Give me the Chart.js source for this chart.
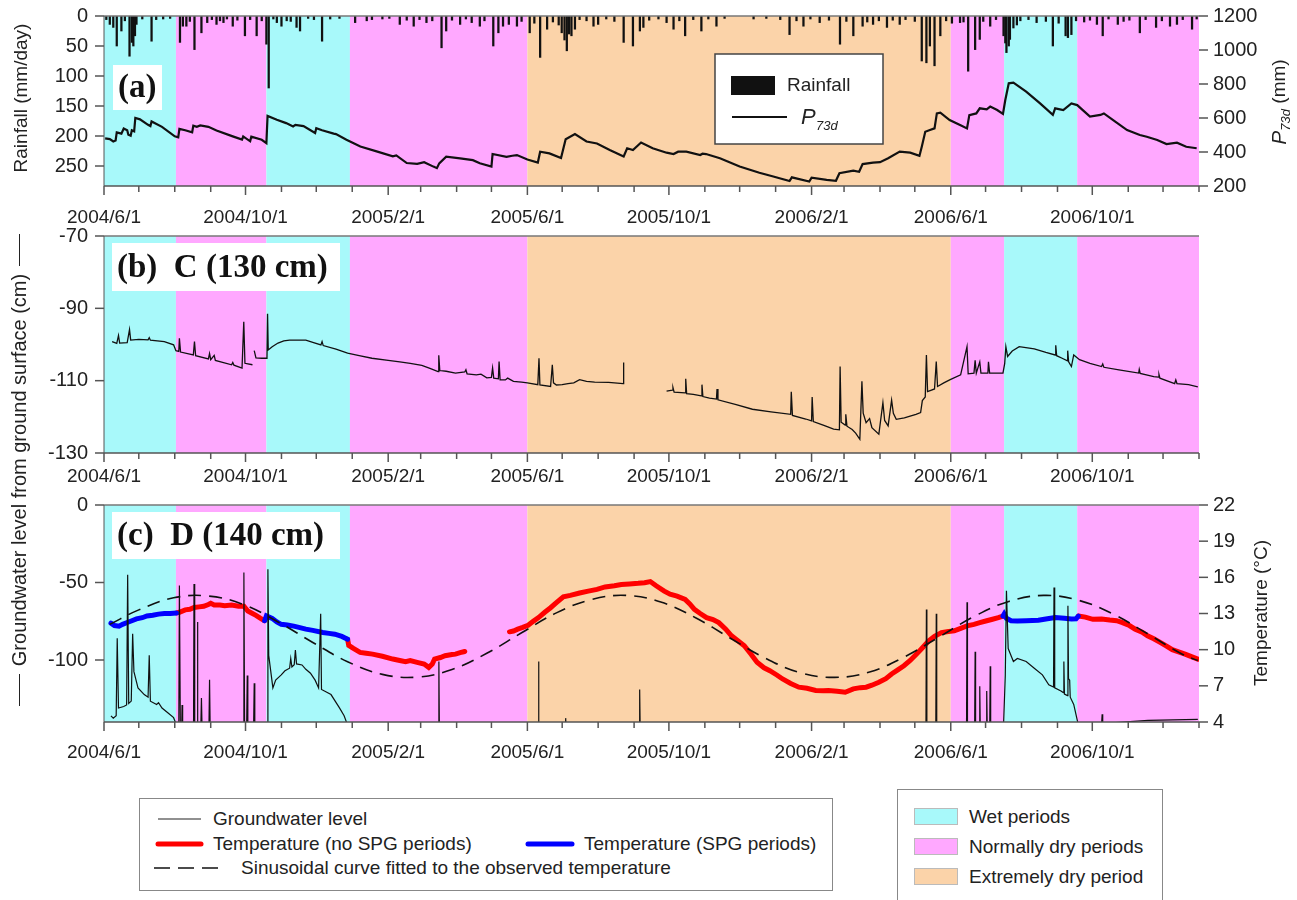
<!DOCTYPE html>
<html>
<head>
<meta charset="utf-8">
<title>Rainfall, groundwater level and temperature</title>
<script src="https://cdn.jsdelivr.net/npm/chart.js@4.4.1/dist/chart.umd.min.js"></script>
<style>
  body { margin: 0; background: #fff; }
  #page { position: relative; width: 1297px; height: 900px; overflow: hidden; font-family: "Liberation Sans", Arial, sans-serif; color: #222; }
  canvas { position: absolute; left: 0; }
  #gwTitle { position: absolute; left: -226px; top: 458px; width: 490px; height: 24px; transform: rotate(-90deg);
             display: flex; align-items: center; justify-content: center; font-size: 20px; white-space: nowrap; }
  #gwTitle .rule { display: inline-block; width: 32px; border-top: 1.5px solid #222; margin: 0 8px; }
  .box { position: absolute; box-sizing: border-box; border: 1.5px solid #888; background: #fff; font-size: 19px; }
  .box .txt { position: absolute; line-height: 22px; white-space: nowrap; }
  .box svg { position: absolute; left: 0; top: 0; }
  .swatch { position: absolute; width: 44px; height: 17px; box-sizing: border-box; border: 1px solid #bbb; }
</style>
</head>
<body>
<div id="page">
  <canvas id="chartA" width="1297" height="245" style="top:0"></canvas>
  <canvas id="chartB" width="1297" height="270" style="top:220px"></canvas>
  <canvas id="chartC" width="1297" height="285" style="top:488px"></canvas>

  <div id="gwTitle"><span class="rule"></span><span>Groundwater level from ground surface (cm)</span><span class="rule"></span></div>

  <div class="box" style="left:139px; top:798px; width:694px; height:93px">
    <svg width="694" height="93">
      <line x1="18" y1="20" x2="61" y2="20" stroke="#222" stroke-width="1.2"/>
      <line x1="18" y1="45" x2="61" y2="45" stroke="#f00" stroke-width="5" stroke-linecap="round"/>
      <line x1="388" y1="45" x2="432" y2="45" stroke="#00f" stroke-width="5" stroke-linecap="round"/>
      <line x1="14" y1="69" x2="78" y2="69" stroke="#111" stroke-width="1.5" stroke-dasharray="16 8"/>
    </svg>
    <span class="txt" style="left:73px; top:9px">Groundwater level</span>
    <span class="txt" style="left:73px; top:34px">Temperature (no SPG periods)</span>
    <span class="txt" style="left:444px; top:34px">Temperature (SPG periods)</span>
    <span class="txt" style="left:101px; top:58px">Sinusoidal curve fitted to the observed temperature</span>
  </div>

  <div class="box" style="left:897px; top:789px; width:266px; height:120px">
    <span class="swatch" style="left:16px; top:18px; background:#A8F9FA"></span>
    <span class="txt" style="left:71px; top:16px">Wet periods</span>
    <span class="swatch" style="left:16px; top:48px; background:#FFA8FF"></span>
    <span class="txt" style="left:71px; top:46px">Normally dry periods</span>
    <span class="swatch" style="left:16px; top:78px; background:#FBD3A9"></span>
    <span class="txt" style="left:71px; top:76px">Extremely dry period</span>
  </div>
</div>

<script>
// x values are day numbers counted from 2004/6/1

const majorTickLabels = ['2004/6/1', '2004/10/1', '2005/2/1', '2005/6/1', '2005/10/1', '2006/2/1', '2006/6/1', '2006/10/1'];
const axisEndDate = '2007/1/1';

const periodStart = ['2004/6/1', '2004/8/2', '2004/10/19', '2004/12/30', '2005/6/1', '2006/6/1', '2006/7/17', '2006/9/18'];
const periodKind = ['wet', 'normal', 'wet', 'normal', 'extreme', 'normal', 'wet', 'normal'];

const rainTicks = [0, 50, 100, 150, 200, 250];
const p73Ticks = [200, 400, 600, 800, 1000, 1200];
const gwCTicks = [-130, -110, -90, -70];
const gwDTicks = [-100, -50, 0];
const tempTicks = [4, 7, 10, 13, 16, 19, 22];

// daily rainfall (mm/day)
const rainfall = [
  [2,6],[5,14],[8,19],[11,50],[15,25],[18,8],[22,67],[24,44],[25.3,50],[26.7,33],[28,14],[33,5],[41,42],[45,6],
  [51,5],[57,4],[65.5,44],[68,17],[71,17],[74,9],[78,56],[84,28],[89,11],[93,6],[97,14],[100,8],[103,11],[106,5],
  [111,17],[115,7],[121.5,33],[126,6],[131.6,33],[136,8],[140,47],[142,120],[146,5],[149,11],[153,17],[157.5,8],
  [161,9],[166,19],[169,25],[176,4],[181,6],[188,42],[195,5],[203,4],[216.5,11],[226.5,8],[231,6],[240,5],[246,4],
  [255,14],[261,7],[267,17],[272,6],[278,11],[283,8],[291,53],[295,25],[300,7],[307,14],[312,5],[317,11],[324,17],
  [328,8],[335.6,50],[340,28],[344,17],[349,14],[356,17],[360,9],[367,28],[371,12],[376,69],[382,22],[387,10],
  [392,15],[394.6,28],[397,40],[399,58],[401,30],[403,33],[406,22],[410,6],[416,8],[422,17],[426,14],[433,5],
  [440,9],[448,44],[456,50],[462,25],[465,19],[470,7],[478,5],[485,11],[491,22],[496,8],[501,33],[508,6],[515,25],
  [521,5],[528,17],[535,4],[560,5],[571,4],[583,6],[591,31],[597,8],[603,17],[609,5],[617,11],[625,7],[634.5,47],
  [640,9],[646,33],[654,17],[658,10],[663,14],[668,8],[675,19],[680,7],[686,14],[691,6],[699,9],[705,75],[709,78],
  [712,50],[716,83],[721,33],[726,8],[731,12],[738,11],[741,10],[745,92],[751,56],[755,39],[758,9],[764,17],[769,6],
  [775.5,33],[777,45],[778,61],[780,50],[781,39],[784,20],[787,15],[790,8],[797,6],[804,11],[812,9],[818,50],[823,12],
  [829,33],[831,36],[834,31],[838,8],[845,10],[850,7],[856,14],[861,33],[866,5],[874,14],[879,9],[884,7],[893,28],
  [898,6],[907,19],[912,8],[919,17],[925,14],[930,6],[938,22],[942,5]
];

// 73-day antecedent precipitation P73d (mm)
const p73 = [
  [1,480],[5,476],[8,462],[10,468],[11,515],[15,508],[17,538],[20,528],[21,502],[23,496],[24,528],[26,522],[27,600],
  [31,592],[38,560],[40,552],[41,580],[50,548],[61,492],[64,486],[65,536],[70,528],[76,516],[77,555],[80,548],[83,556],
  [90,548],[97,527],[111,492],[119,473],[120,492],[126,463],[127,490],[136,472],[140,452],[141,612],[149,590],[157,570],
  [163,550],[165,560],[172,552],[182,512],[183,540],[188,528],[198,508],[200,505],[209,472],[221,432],[235,404],
  [249,374],[252,380],[261,335],[270,330],[276,340],[284,314],[287,305],[289,333],[295,372],[307,362],[318,352],
  [324,334],[334,314],[335,388],[347,372],[352,378],[356,382],[365,356],[374,338],[376,402],[384,392],[394,364],
  [398,475],[406,506],[416,462],[425,450],[436,412],[448,374],[451,422],[456,412],[463,456],[473,422],[485,396],
  [491,388],[495,402],[502,402],[514,382],[516,390],[519,388],[531,363],[548,315],[565,278],[577,256],[591,229],
  [593,251],[608,226],[610,249],[623,236],[631,231],[634,275],[646,290],[651,284],[654,329],[663,337],[669,340],
  [676,363],[686,402],[695,396],[703,377],[705,431],[708,519],[712,529],[716,539],[718,627],[721,631],[729,588],
  [738,559],[744,539],[746,617],[752,627],[755,657],[761,651],[764,667],[770,647],[775,624],[777,706],[780,804],
  [784,808],[795,755],[807,686],[818,618],[820,657],[827,647],[834,686],[839,676],[850,608],[859,618],[862,627],
  [870,588],[882,529],[893,500],[899,490],[908,471],[916,447],[925,455],[933,431],[942,422]
];

// groundwater level at C (cm), one array per logging segment
const gwC1 = [
  [7,-99.2],[11,-99.7],[12.5,-97.5],[13.5,-99.6],[20,-99.5],[22,-95.9],[23,-98.8],[30,-98.6],[38,-98.7],[39,-98.1],
  [40,-98.8],[52,-99.2],[60,-100.1],[62,-101.7],[64.5,-101.9],[65,-98.3],[66,-102.1],[77,-102.9],[78,-99.2],
  [79,-103.1],[90,-104],[91,-102.5],[92,-104.2],[95,-103],[96,-104.4],[110,-105.6],[111,-105.0],[112,-105.7],
  [119,-106.5],[120.5,-93.7],[121.5,-105.2],[128,-105.6]
];
const gwC2 = [
  [129.5,-101.7],[131,-103.7],[136,-103.8],[140.5,-103.8],[141,-91.5],[141.6,-101.5],[145,-100.6],[150,-99.6],
  [155,-99.0],[160,-98.8],[174,-98.8],[180,-99.4],[187,-100.1],[188,-99.2],[189,-100.3],[200,-101.3],[210,-102.4],
  [220,-103.1],[231,-103.8],[245,-104.4],[255,-104.8],[264,-105.2],[274,-105.8],[281,-106.6],[288,-107.5],
  [288.6,-103.0],[289.5,-107.2],[295,-107.4],[303,-107.9],[311,-107.6],[312,-107.0],[313,-108.1],[321,-108.4],
  [325,-108.2],[330,-109.2],[334,-109.1],[335,-106.5],[336,-109.3],[340,-109.5],[340.6,-104.7],[341.5,-109.8],
  [346,-109.8],[348,-109.3],[353,-110.2],[360,-110.4],[365,-110.6],[374,-111.1],[375,-103.8],[375.8,-111.2],
  [385,-111.6],[386.5,-105.6],[387.5,-110.6],[390,-111.2],[395,-111.1],[400,-110.8],[405,-110.6],[410,-109.7],
  [416,-110.2],[423,-110.4],[435,-110.5],[447.5,-110.8],[448,-105]
];
const gwC3 = [
  [485,-112.9],[490,-112.6],[490.5,-111.9],[491.5,-113.2],[501,-113.4],[501.5,-109.5],[502.3,-113.6],[508,-113.8],
  [515,-114.2],[515.5,-111.1],[516.3,-114.4],[522,-114.8],[528,-115.1],[528.5,-112.3],[529.3,-115.3],[545,-116.6],
  [559,-117.9],[575,-118.6],[592,-119.3],[592.5,-113.1],[593.5,-119.6],[605,-120.6],[610,-121.1],[610.5,-114.5],
  [611.5,-121.3],[620,-122.3],[624,-122.8],[629,-123.4],[634,-123.6],[634.6,-106.1],[635.5,-121.5],[639,-122.3],
  [639.5,-119.3],[640.5,-122.6],[645,-123.5],[648,-124.5],[651.6,-126.2],[653.4,-110.2],[654.5,-119],[657,-121.6],
  [660,-120.5],[662,-123],[668,-124.8],[671.5,-116.1],[673,-121],[676,-122.5],[679,-115.4],[680.5,-119],[683,-120.7],
  [690,-120.3],[700,-119.3],[704,-118.8],[705.5,-115.5],[708,-114.5],[709,-102.9],[710,-113],[716,-112.3],
  [717.5,-104.7],[718.6,-111.6],[724,-110.6],[729.5,-109.7],[738.5,-108.4],[744,-100.6],[745,-108.1],[750,-107.9],
  [751,-104.4],[752,-107.9],[755,-104.8],[756,-107.9],[762,-107.9],[762.5,-104.8],[763.5,-107.9],[775,-107.9],
  [776.5,-105.2],[777.5,-100.6],[779,-103.3],[783,-101.8],[789,-100.6],[802,-101.2],[812,-102.2],[820,-102.9],
  [820.5,-100.2],[821.3,-103.1],[826,-103.8],[830.6,-104.5],[830.8,-101.7],[831.6,-104.8],[834,-106.1],[836,-102.9],
  [841,-104.2],[850,-105.2],[860,-106.1],[861,-105.4],[862,-106.3],[875,-107],[892,-107.9],[892.5,-106.9],
  [893.3,-108],[905,-108.9],[909,-109.0],[909.5,-108.3],[910.3,-109.3],[923,-110.8],[924,-109.8],[925,-110.8],
  [935,-111.1],[943,-111.7]
];

// groundwater level at D (cm); -142 sits below the sensor floor
const gwD = [
  [6,-136],[8,-137.5],[10.5,-136],[11.4,-86],[12.5,-131],[17,-130],[19.5,-129],[20.4,-45],[21.3,-128],[23.5,-126.5],
  [24.7,-83],[25.8,-107.5],[29.3,-118],[34.7,-122.3],[38,-124],[39,-97],[40,-126.6],[45.4,-128.7],[47,-127.5],
  [50,-131],[55,-134],[60,-137.2],[62.5,-142],[64.5,-142],[65,-52],[65.8,-142],[67,-142],[67.3,-129],[67.8,-142],
  [77.2,-142],[77.6,-51],[78.2,-142],[80.2,-142],[80.5,-75.5],[81,-142],[83.5,-142],[84,-124.5],[84.5,-142],
  [90.5,-142],[91,-112.8],[91.5,-142],[120.2,-142],[120.6,-43.6],[121.2,-142],[123,-142],[123.5,-110],[124,-142],
  [129,-142],[129.5,-115],[130,-142],[140.8,-142],[141.3,-41.5],[142,-97],[145.6,-118],[148,-113],[152.8,-109.6],
  [156,-107],[160,-105.3],[161,-99],[162,-104.5],[164,-103],[165,-93.6],[166,-102.5],[170.7,-103.2],[174,-106],
  [178,-108.5],[182,-113],[185,-118],[186.8,-70.2],[187.5,-119],[195.7,-122.3],[203,-130.9],[207,-136],[210,-142],
  [288.3,-142],[288.7,-101],[289.1,-142],[374.2,-142],[374.6,-101],[375,-142],[397.7,-142],[398,-137.5],[398.3,-142],
  [461.4,-142],[461.8,-119],[462.2,-142],[708.6,-142],[709,-67.4],[709.4,-142],[717.1,-142],[717.5,-70.2],
  [717.9,-142],[743.6,-142],[744,-62.8],[744.4,-142],[750.6,-142],[751,-94.7],[751.4,-142],[754.6,-142],[755,-117],
  [755.4,-142],[760.6,-142],[761,-120],[761.4,-142],[763.6,-142],[764,-104],[764.4,-142],[775.5,-142],[777,-110],
  [778,-55.3],[779.5,-92.6],[784,-101],[787.4,-99],[795,-101],[802,-105.3],[809,-109.6],[814.5,-116],[818.6,-117.5],
  [819,-53.2],[819.6,-118],[825,-120],[827,-121],[827.5,-101],[828,-122],[830.6,-123],[831,-65],[831.5,-112],
  [832.5,-113],[833,-124],[836,-128.7],[840,-142],[860,-142],[860.5,-135],[861,-142],[870,-140.5],[900,-139],
  [943,-138.3]
];

// temperature at D (deg C), no-SPG periods
const tempRed = [
  [[62.5,13.05],[65,13.1],[70,13.3],[74,13.35],[77.6,13.5],[82,13.55],[86,13.6],[90,13.75],[92,13.85],[95,13.7],
   [100,13.7],[104,13.65],[110,13.7],[116,13.6],[120.6,13.6],[124,13.2],[128,13.0],[131,12.85],[135,12.6],[138.5,12.4]],
  [[210,10.87],[211,10.35],[215,10.1],[220.8,9.77],[226,9.7],[231.5,9.63],[240,9.45],[249,9.22],[255,9.1],[260,9.0],
   [264,9.1],[270,8.95],[276,8.81],[280,8.53],[283,8.8],[285,9.22],[290,9.35],[294,9.5],[300,9.6],[303,9.63],
   [307,9.75],[311,9.85]],
  [[349.6,11.48],[353,11.55],[356.7,11.7],[361,11.85],[365.6,12.03],[370,12.35],[374.6,12.66],[380,13.1],[385,13.48],
   [390,13.9],[396,14.39],[402,14.5],[410,14.7],[417.5,14.86],[425,15.0],[432,15.2],[440,15.3],[446,15.4],[453,15.45],
   [460.5,15.5],[466,15.55],[471,15.65],[476,15.3],[483,14.86],[488,14.6],[494,14.44],[501,14.17],[505,13.8],
   [509,13.34],[514,13.0],[519.5,12.66],[525,12.5],[530,12.24],[536,11.7],[541,11.15],[547,10.7],[552,10.32],
   [558,9.6],[563,8.95],[569,8.5],[574,8.26],[580,7.9],[585,7.57],[592,7.2],[599,6.89],[606,6.8],[613.6,6.61],
   [620,6.6],[624.5,6.61],[632,6.55],[639,6.47],[646,6.75],[652,6.85],[657,6.89],[662,7.05],[668,7.3],[674,7.6],
   [679,7.98],[684,8.3],[689.6,8.67],[695,9.1],[700.5,9.63],[706,10.2],[711,10.73],[716,11.1],[722,11.42],[728,11.5],
   [733,11.56],[738,11.75],[744,11.97],[750,12.1],[755,12.24],[761,12.4],[766,12.52],[771,12.65],[775,12.79]],
  [[840,12.79],[846,12.7],[852.5,12.52],[860,12.55],[867,12.46],[873,12.4],[878,12.24],[884,12.0],[889,11.7],
   [895,11.45],[899.6,11.15],[905,10.9],[910.5,10.6],[916,10.3],[921,10.0],[927,9.8],[932,9.63],[938,9.4],[943,9.22]]
];

// temperature at D (deg C), SPG periods
const tempBlue = [
  [[6,12.2],[9,12.0],[13,11.95],[16,12.1],[20,12.25],[24,12.4],[28,12.55],[33,12.65],[37,12.8],[42,12.85],[47,12.95],
   [52,13.0],[57,13.0],[62.5,13.05]],
  [[138.5,12.4],[140,12.8],[145,12.6],[149,12.3],[152.8,12.1],[158,12.05],[163.5,11.95],[168,11.85],[174,11.7],
   [180,11.6],[188.6,11.42],[194,11.35],[199,11.28],[205,11.1],[210,10.87]],
  [[775,12.79],[776,12.95],[778,12.6],[782,12.4],[787.4,12.38],[795,12.4],[805.5,12.44],[812,12.55],[820,12.66],
   [828,12.6],[834,12.55],[838,12.57],[840,12.79]]
];

// fitted sinusoid
const sineFit = [
  [5,12.1],[30,13.3],[60,14.3],[90,14.45],[120,13.75],[150,12.3],[180,10.6],[210,9.0],[240,7.95],[270,7.72],[300,8.35],
  [330,9.7],[360,11.4],[390,13.05],[420,14.15],[450,14.5],[480,13.95],[510,12.65],[540,10.95],[570,9.3],[600,8.1],
  [630,7.7],[660,8.15],[690,9.4],[720,11.05],[750,12.75],[780,14.0],[810,14.5],[840,14.1],[870,12.95],[900,11.3],
  [930,9.6],[943,9.1]
];

const SANS = '"Liberation Sans", Arial, sans-serif';
const SERIF = '"Liberation Serif", "Times New Roman", serif';
const INK = '#222';
const periodColor = { wet: '#A8F9FA', normal: '#FFA8FF', extreme: '#FBD3A9' };

const EPOCH = Date.UTC(2004, 5, 1);
function dayOf(s) {
  const [y, m, d] = s.split('/').map(Number);
  return Math.round((Date.UTC(y, m - 1, d) - EPOCH) / 864e5);
}
const AXIS_END = dayOf(axisEndDate);
const labelAt = new Map(majorTickLabels.map(s => [dayOf(s), s]));
const monthTicks = [];
for (let i = 0; ; i++) {
  const d = Math.round((Date.UTC(2004, 5 + i, 1) - EPOCH) / 864e5);
  if (d > AXIS_END) break;
  monthTicks.push(d);
}

const xy = pairs => pairs.map(([x, y]) => ({ x, y }));
const segments = segs => segs.flatMap((s, i) => (i ? [{ x: s[0][0], y: null }] : []).concat(xy(s)));

function dayAxis(labelPad, height) {
  return {
    type: 'linear', position: 'bottom', min: 0, max: AXIS_END, offset: false,
    grid: { display: false, drawTicks: false, offset: false }, border: { display: false },
    afterBuildTicks: s => { s.ticks = monthTicks.map(v => ({ value: v })); },
    afterFit: s => { s.height = height; },
    ticks: { autoSkip: false, maxRotation: 0, minRotation: 0, padding: labelPad, color: INK,
             font: { family: SANS, size: 19 }, callback: v => labelAt.get(v) || '' }
  };
}

// fixed-width value axis; the end labels may overhang the plot edge
function valueAxis(position, min, max, tickList, width, reverse) {
  return {
    type: 'linear', position, min, max, reverse: !!reverse,
    grid: { display: false, drawTicks: false }, border: { display: false },
    afterBuildTicks: s => { s.ticks = tickList.map(v => ({ value: v })); },
    afterFit: s => { s.width = width; s.paddingTop = 0; s.paddingBottom = 0; },
    ticks: { padding: position === 'left' ? 16 : 14, color: INK, font: { family: SANS, size: 20 },
             callback: v => String(v) }
  };
}

const bandPlugin = {
  id: 'bands',
  beforeDatasetsDraw(chart) {
    const { ctx, chartArea: a, scales: { x } } = chart;
    ctx.save();
    periodStart.forEach((s, i) => {
      const x0 = x.getPixelForValue(dayOf(s));
      const x1 = x.getPixelForValue(dayOf(periodStart[i + 1] || axisEndDate));
      ctx.fillStyle = periodColor[periodKind[i]];
      ctx.fillRect(x0, a.top, x1 - x0, a.bottom - a.top);
    });
    ctx.restore();
  }
};

function seg(ctx, x0, y0, x1, y1) {
  ctx.beginPath(); ctx.moveTo(x0, y0); ctx.lineTo(x1, y1); ctx.stroke();
}

const framePlugin = {
  id: 'frame',
  afterDatasetsDraw(chart) {
    const { ctx, chartArea: a, scales } = chart;
    ctx.save();
    ctx.lineWidth = 1.5;
    ctx.strokeStyle = '#777';
    seg(ctx, a.left, a.top, a.right, a.top);
    ctx.strokeStyle = '#555';
    seg(ctx, a.left, a.bottom, a.right, a.bottom);
    ctx.lineWidth = 1;
    seg(ctx, a.left, a.top, a.left, a.bottom);
    ctx.lineWidth = 1.5;
    scales.x.ticks.forEach(t => {
      const px = scales.x.getPixelForValue(t.value);
      seg(ctx, px, a.bottom, px, a.bottom + (labelAt.has(t.value) ? 9 : 6));
    });
    Object.values(scales).forEach(s => {
      if (s.axis !== 'y') return;
      s.ticks.forEach(t => {
        const py = s.getPixelForValue(t.value);
        if (s.position === 'left') seg(ctx, a.left - 9, py, a.left, py);
        else seg(ctx, a.right, py, a.right + 9, py);
      });
    });
    ctx.restore();
  }
};

// rotated text reading bottom to top; parts = [text, font, offset]
function vText(ctx, parts, cx, cy) {
  ctx.save();
  ctx.translate(cx, cy);
  ctx.rotate(-Math.PI / 2);
  ctx.fillStyle = INK;
  ctx.textBaseline = 'middle';
  let total = 0;
  parts.forEach(([t, f]) => { ctx.font = f; total += ctx.measureText(t).width; });
  let x = -total / 2;
  parts.forEach(([t, f, dy]) => { ctx.font = f; ctx.fillText(t, x, dy); x += ctx.measureText(t).width; });
  ctx.restore();
}

function panelTag(ctx, text, x, y, w, h) {
  ctx.save();
  ctx.fillStyle = '#fff';
  ctx.fillRect(x, y, w, h);
  ctx.fillStyle = '#111';
  ctx.font = 'bold 33px ' + SERIF;
  ctx.textBaseline = 'middle';
  ctx.fillText(text, x + 5, y + h / 2 + 1);
  ctx.restore();
}

const commonOptions = {
  responsive: false, animation: false, events: [],
  plugins: { legend: { display: false }, tooltip: { enabled: false } }
};

// (a) rainfall and P73d
new Chart(document.getElementById('chartA'), {
  type: 'line',
  data: {
    datasets: [
      { label: 'P73d', data: xy(p73), yAxisID: 'yP', borderColor: '#111', borderWidth: 2.2,
        pointRadius: 0, tension: 0 },
      { type: 'bar', label: 'Rainfall', data: xy(rainfall), yAxisID: 'yR', backgroundColor: '#111',
        barThickness: 1.6, grouped: false }
    ]
  },
  options: {
    ...commonOptions,
    layout: { padding: { top: 16 } },
    scales: {
      x: dayAxis(20.6, 59),
      yR: valueAxis('left', 0, 283.33, rainTicks, 104, true),
      yP: valueAxis('right', 200, 1200, p73Ticks, 98)
    }
  },
  plugins: [bandPlugin, framePlugin, {
    id: 'panelA',
    afterDraw(chart) {
      const ctx = chart.ctx;
      panelTag(ctx, '(a)', 113, 65, 49, 45);
      ctx.save();
      ctx.fillStyle = '#fff';
      ctx.fillRect(715, 54, 168, 90);
      ctx.strokeStyle = '#444'; ctx.lineWidth = 1.5;
      ctx.strokeRect(715, 54, 168, 90);
      ctx.fillStyle = '#111';
      ctx.fillRect(731, 76, 44, 19);
      ctx.fillStyle = INK;
      ctx.font = '19px ' + SANS; ctx.textBaseline = 'middle';
      ctx.fillText('Rainfall', 787, 86);
      ctx.strokeStyle = '#111'; ctx.lineWidth = 2;
      seg(ctx, 732, 117, 787, 117);
      ctx.textBaseline = 'alphabetic';
      ctx.font = 'italic 22px ' + SANS; ctx.fillText('P', 801, 124);
      ctx.font = 'italic 13px ' + SANS; ctx.fillText('73d', 816, 130);
      ctx.restore();
      vText(ctx, [['Rainfall (mm/day)', '19px ' + SANS, 0]], 22, 98);
      vText(ctx, [['P', 'italic 21px ' + SANS, 0], ['73d', 'italic 13px ' + SANS, 6], [' (mm)', '19px ' + SANS, 0]], 1280, 102);
    }
  }]
});

// (b) groundwater level at C
new Chart(document.getElementById('chartB'), {
  type: 'line',
  data: {
    datasets: [
      { label: 'C (130 cm)', data: segments([gwC1, gwC2, gwC3]), yAxisID: 'yC', borderColor: '#111',
        borderWidth: 1.3, pointRadius: 0, tension: 0, spanGaps: false }
    ]
  },
  options: {
    ...commonOptions,
    layout: { padding: { top: 16, right: 98 } },
    scales: {
      x: dayAxis(12.6, 37),
      yC: valueAxis('left', -130, -70, gwCTicks, 104)
    }
  },
  plugins: [bandPlugin, framePlugin, {
    id: 'panelB',
    afterDraw(chart) { panelTag(chart.ctx, '(b)  C (130 cm)', 112, 23, 228, 48); }
  }]
});

// (c) groundwater level and temperature at D
new Chart(document.getElementById('chartC'), {
  type: 'line',
  data: {
    datasets: [
      { label: 'Groundwater level', data: xy(gwD), yAxisID: 'yG', borderColor: '#111', borderWidth: 1.2,
        pointRadius: 0, tension: 0 },
      { label: 'Sinusoidal curve fitted to the observed temperature', data: xy(sineFit), yAxisID: 'yT',
        borderColor: '#111', borderWidth: 1.6, borderDash: [13, 8], pointRadius: 0, tension: 0.4 },
      { label: 'Temperature (SPG periods)', data: segments(tempBlue), yAxisID: 'yT', borderColor: '#0000ff',
        borderWidth: 5, borderCapStyle: 'round', pointRadius: 0, tension: 0, spanGaps: false },
      { label: 'Temperature (no SPG periods)', data: segments(tempRed), yAxisID: 'yT', borderColor: '#ff0000',
        borderWidth: 5, borderCapStyle: 'round', pointRadius: 0, tension: 0, spanGaps: false }
    ]
  },
  options: {
    ...commonOptions,
    layout: { padding: { top: 17 } },
    scales: {
      x: dayAxis(19.6, 51),
      yG: valueAxis('left', -140, 0, gwDTicks, 104),
      yT: valueAxis('right', 4, 22, tempTicks, 98)
    }
  },
  plugins: [bandPlugin, framePlugin, {
    id: 'panelC',
    afterDraw(chart) {
      panelTag(chart.ctx, '(c)  D (140 cm)', 112, 24, 228, 47);
      vText(chart.ctx, [['Temperature (°C)', '19px ' + SANS, 0]], 1262, 125);
    }
  }]
});
</script>
</body>
</html>
